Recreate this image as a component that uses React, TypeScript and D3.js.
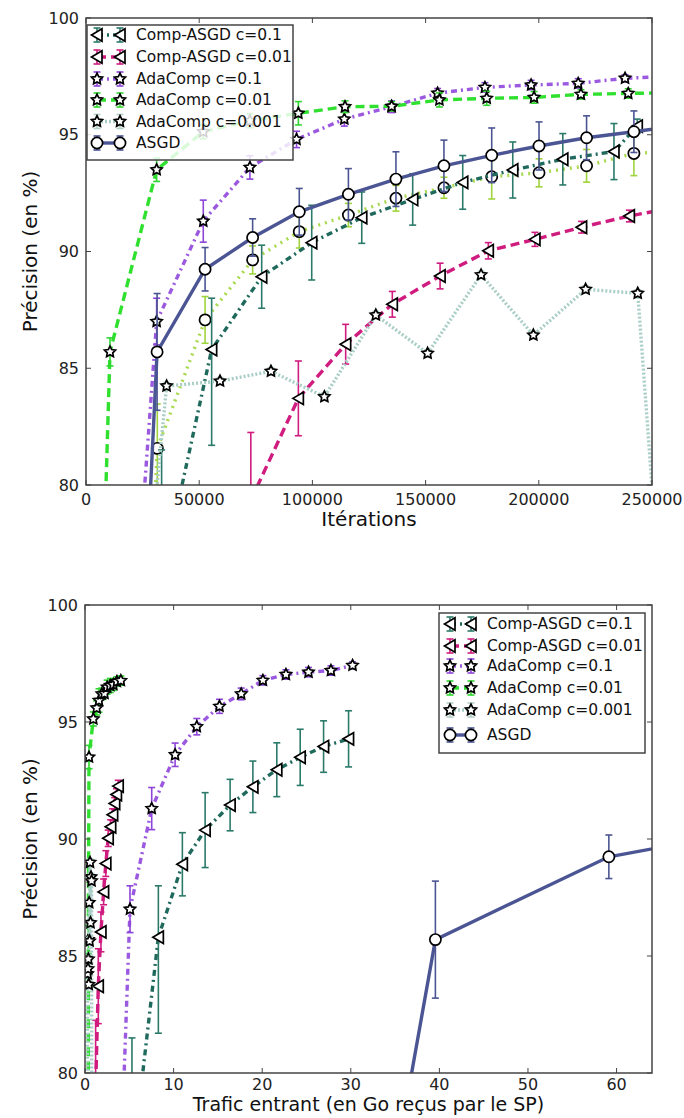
import React from "react";
import * as d3 from "d3";

// ---- data (precision in %, iterations for the top chart, traffic in Go for the bottom one)
const yTicks = [80, 85, 90, 95, 100];
const iterTicks = [0, 50000, 100000, 150000, 200000, 250000];
const trafficTicks = [0, 10, 20, 30, 40, 50, 60];

const legendNames = [
  "Comp-ASGD c=0.1",
  "Comp-ASGD c=0.01",
  "AdaComp c=0.1",
  "AdaComp c=0.01",
  "AdaComp c=0.001",
  "ASGD",
];

const extraIter = [10500, 31500, 52600, 73600, 94200, 115900, 136900, 158100, 179200, 200100, 221100, 242000, 263000];
const extraAcc = [40, 81.57, 87.07, 89.64, 90.85, 91.56, 92.28, 92.73, 93.2, 93.37, 93.67, 94.2, 94.3];
const extraErr = [3, 1.9, 1.0, 0.6, 0.7, 0.5, 0.55, 0.45, 0.95, 0.6, 0.7, 0.95, 0.8];

const compAIter = [33400, 55500, 77600, 99700, 121800, 144300, 166400, 188500, 210600, 233200, 243500];
const compATraffic = [5.3, 8.28, 10.99, 13.56, 16.38, 18.95, 21.65, 24.29, 26.93, 29.75];
const compAAcc = [76, 85.8, 88.92, 90.38, 91.45, 92.23, 92.96, 93.49, 93.95, 94.28, 95.37];
const compAErr = [5.5, 2.2, 1.35, 1.6, 1.1, 1.1, 1.15, 1.2, 1.1, 1.2, 0.3];
const compAErrLow = [5.5, 4.1, 1.35, 1.6, 1.1, 1.1, 1.15, 1.2, 1.1, 1.2, 0.3];

const compBIter = [51800, 72800, 93800, 114700, 135300, 156400, 177700, 198300, 218900, 240000, 261000, 282000];
const compBTraffic = [0.9, 1.2, 1.5, 1.8, 2.1, 2.35, 2.62, 2.9, 3.12, 3.35, 3.55, 3.75];
const compBAcc = [70, 79.35, 83.71, 86.03, 87.74, 88.95, 90.03, 90.52, 91.04, 91.52, 91.9, 92.26];
const compBErr = [3, 2.9, 1.6, 0.85, 0.55, 0.55, 0.35, 0.3, 0.25, 0.25, 0.25, 0.25];

const adaAIter = [10600, 31200, 51800, 72400, 93000, 114100, 135000, 155300, 176200, 196600, 217400, 238100, 259000];
const adaATraffic = [2.5, 5.08, 7.53, 10.17, 12.62, 15.18, 17.63, 20.08, 22.68, 25.23, 27.76, 30.2];
const adaAAcc = [59.6, 87.0, 91.3, 93.6, 94.8, 95.67, 96.2, 96.78, 97.03, 97.13, 97.2, 97.42, 97.5];
const adaAErr = [2, 1.0, 0.9, 0.5, 0.35, 0.3, 0.25, 0.2, 0.2, 0.2, 0.2, 0.15, 0.15];

const adaBIter = [0, 10600, 31200, 51800, 72400, 93800, 114400, 135000, 156100, 177000, 197900, 218600, 239500, 260000];
const adaBTraffic = [0.3, 0.38, 0.45, 0.94, 1.32, 1.58, 1.9, 2.2, 2.5, 2.85, 3.2, 3.6, 4.05];
const adaBAcc = [51.4, 85.7, 93.5, 95.13, 95.6, 95.92, 96.2, 96.22, 96.49, 96.56, 96.6, 96.73, 96.77, 96.8];
const adaBErr = [1, 0.6, 0.5, 0.3, 0.3, 0.5, 0.25, 0.2, 0.3, 0.3, 0.25, 0.2, 0.2, 0.2];

const adaCIter = [10600, 35600, 59200, 81700, 105300, 128000, 150900, 174500, 197600, 220700, 243700, 264000];
const adaCTraffic = [0.15, 0.3, 0.34, 0.38, 0.42, 0.47, 0.52, 0.57, 0.62, 0.68, 0.74, 0.8];
const adaCAcc = [58.9, 84.24, 84.45, 84.87, 83.78, 87.28, 85.64, 89.0, 86.42, 88.38, 88.21, 61.6];
const adaCErr = [0.15, 0.15, 0.15, 0.15, 0.15, 0.15, 0.15, 0.15, 0.15, 0.15, 0.15, 0.15];

const asgdIter = [10500, 31400, 52600, 73600, 94200, 115900, 136900, 158100, 179200, 200100, 221100, 242000, 263000];
const asgdTraffic = [19.8, 39.55, 59.13, 78.7];
const asgdAcc = [43.7, 85.7, 89.24, 90.6, 91.7, 92.45, 93.1, 93.67, 94.12, 94.52, 94.87, 95.13, 95.4];
const asgdErr = [3, 2.5, 0.93, 0.8, 1.0, 1.1, 1.17, 1.1, 1.17, 1.03, 0.94, 0.89, 0.85];

type Marker = "circle" | "tri" | "star";
type Series = {
  name: string | null;
  color: string;
  barColor: string;
  dash: string;
  marker: Marker;
  iter: number[];
  traffic: number[] | null;
  acc: number[];
  err: number[];
  errLow?: number[];
};

// plot order (ASGD on top), legend keeps legendNames order
const series: Series[] = [
  { name: null, color: "#a9d94e", barColor: "#9fd43c", dash: "2 5", marker: "circle", iter: extraIter, traffic: null, acc: extraAcc, err: extraErr },
  { name: legendNames[0], color: "#1f6a5c", barColor: "#2b7a6a", dash: "6 4 2 4", marker: "tri", iter: compAIter, traffic: compATraffic, acc: compAAcc, err: compAErr, errLow: compAErrLow },
  { name: legendNames[1], color: "#d01c7f", barColor: "#d01c7f", dash: "9 5", marker: "tri", iter: compBIter, traffic: compBTraffic, acc: compBAcc, err: compBErr },
  { name: legendNames[2], color: "#9b59e0", barColor: "#8e44d8", dash: "6 4 2 4", marker: "star", iter: adaAIter, traffic: adaATraffic, acc: adaAAcc, err: adaAErr },
  { name: legendNames[3], color: "#2fe02f", barColor: "#2fd62f", dash: "9 5", marker: "star", iter: adaBIter, traffic: adaBTraffic, acc: adaBAcc, err: adaBErr },
  { name: legendNames[4], color: "#a9cec6", barColor: "#b5cfca", dash: "2 2", marker: "star", iter: adaCIter, traffic: adaCTraffic, acc: adaCAcc, err: adaCErr },
  { name: legendNames[5], color: "#4b5593", barColor: "#4b5593", dash: "", marker: "circle", iter: asgdIter, traffic: asgdTraffic, acc: asgdAcc, err: asgdErr },
];

const FONT = "DejaVu Sans, Verdana, sans-serif";

function starPath(R: number, r: number) {
  const pts: [number, number][] = [];
  for (let i = 0; i < 10; i++) {
    const a = -Math.PI / 2 + (i * Math.PI) / 5;
    const rr = i % 2 === 0 ? R : r;
    pts.push([rr * Math.cos(a), rr * Math.sin(a)]);
  }
  return "M" + pts.map((p) => p.join(",")).join("L") + "Z";
}
const STAR = starPath(5.8, 2.9);
const TRI = "M-5.5,0L5,-6.2L5,6.2Z";

function MarkerShape({ m, x, y }: { m: Marker; x: number; y: number }) {
  const common = { fill: "#fff", stroke: "#000", strokeWidth: 1.7 };
  if (m === "circle") return <circle cx={x} cy={y} r={5.6} {...common} />;
  if (m === "tri") return <path d={TRI} transform={`translate(${x},${y})`} {...common} strokeLinejoin="miter" />;
  return <path d={STAR} transform={`translate(${x},${y})`} {...common} strokeLinejoin="miter" />;
}

function ErrBar({ x, y0, y1, color }: { x: number; y0: number; y1: number; color: string }) {
  return (
    <g stroke={color} strokeWidth={1.6}>
      <line x1={x} x2={x} y1={y0} y2={y1} />
      <line x1={x - 3.5} x2={x + 3.5} y1={y0} y2={y0} />
      <line x1={x - 3.5} x2={x + 3.5} y1={y1} y2={y1} />
    </g>
  );
}

type ChartProps = {
  id: string;
  useTraffic: boolean;
  xDomain: [number, number];
  xRange: [number, number];
  yRange: [number, number];
  xTicks: number[];
  tickGap: number;
  xLabel: string;
  xLabelGap: number;
  xLabelSize: number;
  legend: { x0: number; y0: number; x1: number; y1: number; m0: number; m1: number; tx: number; rows: number[] };
};

function Chart({ id, useTraffic, xDomain, xRange, yRange, xTicks, tickGap, xLabel, xLabelGap, xLabelSize, legend }: ChartProps) {
  const x = d3.scaleLinear().domain(xDomain).range(xRange);
  const y = d3.scaleLinear().domain([80, 100]).range(yRange);
  const [left, right] = xRange;
  const [bottom, top] = yRange;

  const line = d3
    .line<{ x: number; y: number }>()
    .x((d) => x(d.x))
    .y((d) => y(d.y));

  const legendSeries = legendNames.map((n) => series.find((s) => s.name === n)!);

  return (
    <g>
      <defs>
        <clipPath id={id}>
          <rect x={left} y={top} width={right - left} height={bottom - top} />
        </clipPath>
      </defs>
      <g clipPath={`url(#${id})`}>
        {series.map((s, si) => {
          const xs = useTraffic ? s.traffic : s.iter;
          if (!xs) return null;
          const pts = xs.map((xv, i) => ({
            x: xv,
            y: s.acc[i],
            hi: s.err[i],
            lo: s.errLow ? s.errLow[i] : s.err[i],
          }));
          return (
            <g key={si}>
              <path
                d={line(pts) || ""}
                fill="none"
                stroke={s.color}
                strokeWidth={3.4}
                strokeDasharray={s.dash || undefined}
              />
              {pts.map((p, i) => (
                <ErrBar key={i} x={x(p.x)} y0={y(p.y + p.hi)} y1={y(p.y - p.lo)} color={s.barColor} />
              ))}
              {pts.map((p, i) => (
                <MarkerShape key={i} m={s.marker} x={x(p.x)} y={y(p.y)} />
              ))}
            </g>
          );
        })}
      </g>

      <rect x={left} y={top} width={right - left} height={bottom - top} fill="none" stroke="#444" strokeWidth={1.5} />

      {yTicks.map((t) => (
        <g key={"y" + t}>
          <line x1={left} x2={left + 5} y1={y(t)} y2={y(t)} stroke="#444" />
          <line x1={right - 5} x2={right} y1={y(t)} y2={y(t)} stroke="#444" />
          <text x={left - 7} y={y(t)} dy="0.35em" textAnchor="end" fontSize={16} fontFamily={FONT} fill="#222">
            {t}
          </text>
        </g>
      ))}
      {xTicks.map((t) => (
        <g key={"x" + t}>
          <line x1={x(t)} x2={x(t)} y1={bottom} y2={bottom - 5} stroke="#444" />
          <line x1={x(t)} x2={x(t)} y1={top} y2={top + 5} stroke="#444" />
          <text x={x(t)} y={bottom + tickGap} textAnchor="middle" fontSize={16} fontFamily={FONT} fill="#222">
            {t}
          </text>
        </g>
      ))}

      <text
        x={(left + right) / 2}
        y={bottom + xLabelGap}
        textAnchor="middle"
        fontSize={xLabelSize}
        fontFamily={FONT}
        fill="#111"
      >
        {xLabel}
      </text>
      <text
        transform={`translate(30,${(top + bottom) / 2}) rotate(-90)`}
        textAnchor="middle"
        dy="0.35em"
        fontSize={20}
        fontFamily={FONT}
        fill="#111"
      >
        Précision (en %)
      </text>

      <g>
        <rect
          x={legend.x0}
          y={legend.y0}
          width={legend.x1 - legend.x0}
          height={legend.y1 - legend.y0}
          fill="#fff"
          fillOpacity={0.82}
          stroke="#444"
          strokeWidth={1.5}
        />
        {legendSeries.map((s, i) => {
          const ry = legend.rows[i];
          return (
            <g key={i}>
              <line
                x1={legend.m0}
                x2={legend.m1}
                y1={ry}
                y2={ry}
                stroke={s.color}
                strokeWidth={3.4}
                strokeDasharray={s.dash || undefined}
              />
              <ErrBar x={legend.m0} y0={ry - 7} y1={ry + 7} color={s.barColor} />
              <ErrBar x={legend.m1} y0={ry - 7} y1={ry + 7} color={s.barColor} />
              <MarkerShape m={s.marker} x={legend.m0} y={ry} />
              <MarkerShape m={s.marker} x={legend.m1} y={ry} />
              <text x={legend.tx} y={ry} dy="0.35em" fontSize={15.5} fontFamily={FONT} fill="#111">
                {s.name}
              </text>
            </g>
          );
        })}
      </g>
    </g>
  );
}

export default function App() {
  return (
    <svg
      width={684}
      height={1118}
      style={{ position: "absolute", left: 0, top: 0, background: "#fff" }}
    >
      <rect width={684} height={1118} fill="#fff" />
      <Chart
        id="clipTop"
        useTraffic={false}
        xDomain={[0, 250000]}
        xRange={[86, 652]}
        yRange={[485, 18]}
        xTicks={iterTicks}
        tickGap={20}
        xLabel="Itérations"
        xLabelGap={41}
        xLabelSize={20}
        legend={{ x0: 87, y0: 25, x1: 293, y1: 160, m0: 97, m1: 120, tx: 136, rows: [35, 57, 79, 100, 121.5, 143] }}
      />
      <Chart
        id="clipBottom"
        useTraffic={true}
        xDomain={[0, 64]}
        xRange={[85, 652]}
        yRange={[1073, 605]}
        xTicks={trafficTicks}
        tickGap={17}
        xLabel="Trafic entrant (en Go reçus par le SP)"
        xLabelGap={38}
        xLabelSize={19}
        legend={{ x0: 439, y0: 613, x1: 645, y1: 753, m0: 450, m1: 471, tx: 487, rows: [624, 646, 666, 688, 710, 735] }}
      />
    </svg>
  );
}
